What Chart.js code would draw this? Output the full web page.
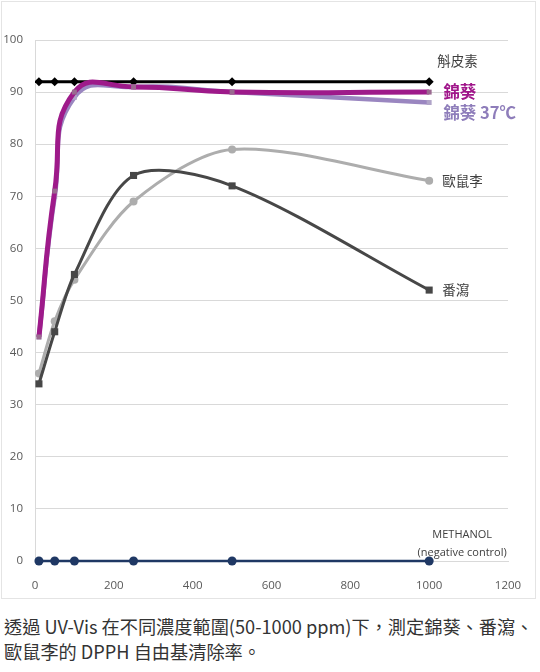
<!DOCTYPE html>
<html lang="zh-TW">
<head>
<meta charset="utf-8">
<script src="https://cdn.jsdelivr.net/npm/chart.js@4.4.1/dist/chart.umd.min.js"></script>
<style>
  html, body { margin: 0; padding: 0; background: #fff; }
  #wrap { position: relative; width: 540px; height: 672px; }
  #frame { position: absolute; left: 1px; top: 1px; width: 535px; height: 598px; border: 1px solid #e4e4e4; box-sizing: border-box; }
  #box { position: absolute; left: 0; top: 0; width: 540px; height: 605px; }
  #caption { position: absolute; left: 4px; top: 614px; width: 540px; font-family: "Noto Sans CJK TC", "Noto Sans", sans-serif; font-size: 18.2px; line-height: 25px; color: #333; white-space: nowrap; }
</style>
</head>
<body>
<div id="wrap">
  <div id="frame"></div>
  <div id="box"><canvas id="c"></canvas></div>
  <div id="caption" lang="zh-TW">透過 UV-Vis 在不同濃度範圍(50-1000 ppm)下，測定錦葵、番瀉、<br>歐鼠李的 DPPH 自由基清除率。</div>
</div>
<script>
const concentrations = [10, 50, 100, 250, 500, 1000];
const seriesNames = ["錦葵", "錦葵 37℃", "斛皮素", "番瀉", "歐鼠李", "METHANOL"];
const malva = [43, 71, 90, 91, 90, 90];
const malva37 = [43, 70, 89, 91, 90, 88];
const quercetin = [92, 92, 92, 92, 92, 92];
const senna = [34, 44, 55, 74, 72, 52];
const buckthorn = [36, 46, 54, 69, 79, 73];
const methanol = [0, 0, 0, 0, 0, 0];
const yTicks = [0, 10, 20, 30, 40, 50, 60, 70, 80, 90, 100];
const xTicks = [0, 200, 400, 600, 800, 1000, 1200];

const pts = arr => concentrations.map((x, i) => ({ x: x, y: arr[i] }));

const labelPlugin = {
  id: 'seriesLabels',
  afterDatasetsDraw(chart) {
    const ctx = chart.ctx;
    const xs = chart.scales.x, ys = chart.scales.y;
    const x0 = xs.getPixelForValue(1000);
    ctx.save();
    ctx.textBaseline = 'middle';
    const cjk = '"Noto Sans CJK TC", "Noto Sans", sans-serif';
    ctx.font = '13.5px ' + cjk; ctx.fillStyle = '#404040'; ctx.textAlign = 'left';
    ctx.fillText(seriesNames[2], x0 + 8, ys.getPixelForValue(quercetin[5]) - 21);
    ctx.font = 'bold 16.5px ' + cjk; ctx.fillStyle = '#A0158A';
    ctx.fillText(seriesNames[0], x0 + 14, ys.getPixelForValue(malva[5]));
    ctx.fillStyle = '#8E7DBA';
    ctx.fillText(seriesNames[1], x0 + 14, ys.getPixelForValue(malva37[5]) + 10);
    ctx.font = '13.5px ' + cjk; ctx.fillStyle = '#404040';
    ctx.fillText(seriesNames[4], x0 + 13, ys.getPixelForValue(buckthorn[5]));
    ctx.fillText(seriesNames[3], x0 + 13, ys.getPixelForValue(senna[5]));
    ctx.font = '11px "Open Sans", "Liberation Sans", sans-serif'; ctx.fillStyle = '#404040'; ctx.textAlign = 'center';
    ctx.fillText(seriesNames[5], x0 + 33, ys.getPixelForValue(methanol[5]) - 26);
    ctx.fillText('(negative control)', x0 + 33, ys.getPixelForValue(methanol[5]) - 8);
    ctx.restore();
  }
};

new Chart(document.getElementById('c'), {
  type: 'scatter',
  data: {
    datasets: [
      { label: seriesNames[0], data: pts(malva), showLine: true, borderColor: '#9E1A8A', backgroundColor: '#9a6a90', borderWidth: 5, tension: 0.5, pointStyle: 'rect', pointRadius: 3.5, pointBorderWidth: 0 },
      { label: seriesNames[1], data: pts(malva37), showLine: true, borderColor: '#9A86C0', backgroundColor: '#b0a4c8', borderWidth: 4.5, tension: 0.5, pointStyle: 'rect', pointRadius: 3.5, pointBorderWidth: 0 },
      { label: seriesNames[2], data: pts(quercetin), showLine: true, borderColor: '#000', backgroundColor: '#000', borderWidth: 3, tension: 0, pointStyle: 'rectRot', pointRadius: 4.5, pointBorderWidth: 0 },
      { label: seriesNames[3], data: pts(senna), showLine: true, borderColor: '#474747', backgroundColor: '#474747', borderWidth: 3, tension: 0.3, pointStyle: 'rect', pointRadius: 5, pointBorderWidth: 0 },
      { label: seriesNames[4], data: pts(buckthorn), showLine: true, borderColor: '#ADADAD', backgroundColor: '#ADADAD', borderWidth: 3, tension: 0.3, pointStyle: 'circle', pointRadius: 4, pointBorderWidth: 0 },
      { label: seriesNames[5], data: pts(methanol), showLine: true, clip: 8, borderColor: '#1F3864', backgroundColor: '#1F3864', borderWidth: 2.5, tension: 0, pointStyle: 'circle', pointRadius: 4.5, pointBorderWidth: 0 }
    ]
  },
  options: {
    responsive: true,
    maintainAspectRatio: false,
    animation: false,
    layout: { padding: { left: 0, top: 40, right: 32, bottom: 0 } },
    plugins: { legend: { display: false }, tooltip: { enabled: false } },
    scales: {
      x: {
        type: 'linear', min: 0, max: 1200,
        afterBuildTicks: s => { s.ticks = xTicks.map(v => ({ value: v })); },
        afterFit: s => { s.height = 44; },
        grid: { display: false },
        border: { display: true, color: '#d9d9d9' },
        ticks: { padding: 10, color: '#595959', callback: v => String(v), font: { family: '"Open Sans", "Liberation Sans", sans-serif', size: 11.5 } }
      },
      y: {
        type: 'linear', min: 0, max: 100,
        afterBuildTicks: s => { s.ticks = yTicks.map(v => ({ value: v })); },
        afterFit: s => { s.width = 35; },
        grid: { color: '#d9d9d9', lineWidth: 1, drawTicks: false },
        border: { display: true, color: '#d9d9d9' },
        ticks: { padding: 12, color: '#595959', callback: v => String(v), font: { family: '"Open Sans", "Liberation Sans", sans-serif', size: 11.5 } }
      }
    }
  },
  plugins: [labelPlugin]
});
</script>
</body>
</html>
